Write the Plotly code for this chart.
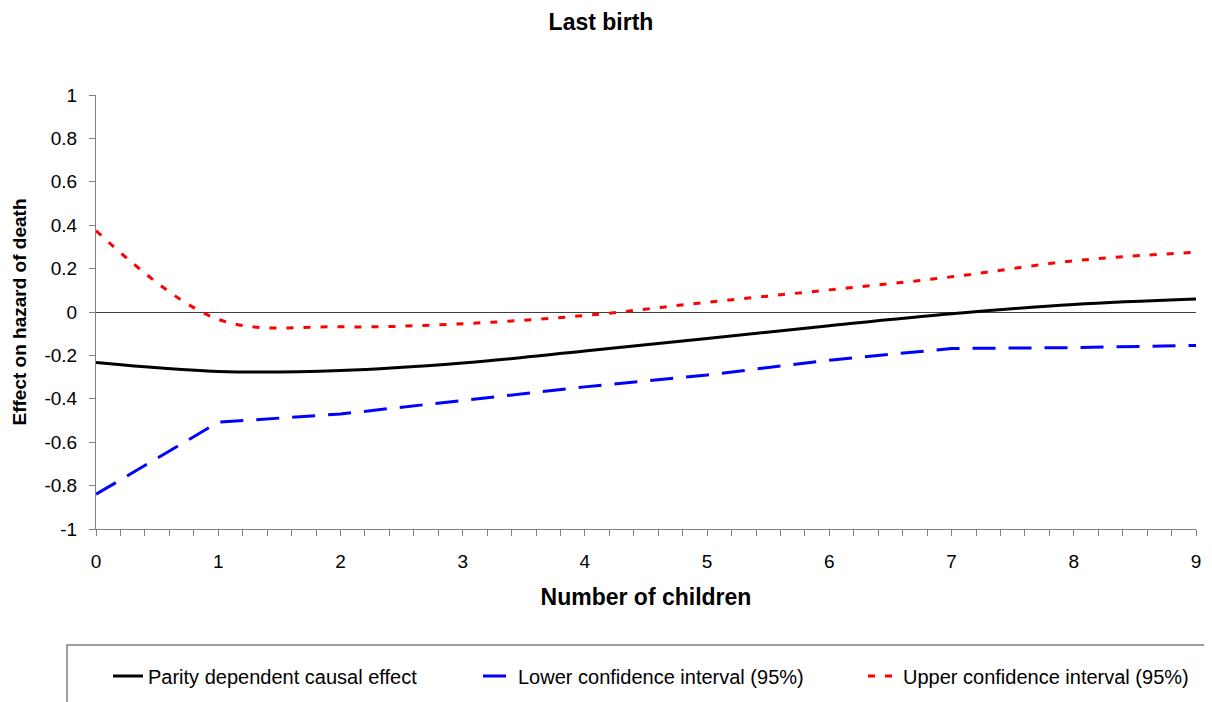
import plotly.graph_objects as go

children = [0, 1, 2, 3, 4, 5, 6, 7, 8, 9]
effect = [-0.233, -0.274, -0.270, -0.235, -0.180, -0.122, -0.063, -0.008, 0.035, 0.060]
lower_ci = [-0.840, -0.508, -0.470, -0.409, -0.345, -0.290, -0.222, -0.168, -0.164, -0.154]
upper_ci = [0.375, -0.034, -0.068, -0.054, -0.016, 0.045, 0.102, 0.162, 0.236, 0.275]

y_tickvals = [1, 0.8, 0.6, 0.4, 0.2, 0, -0.2, -0.4, -0.6, -0.8, -1]
y_ticktext = ["1", "0.8", "0.6", "0.4", "0.2", "0", "-0.2", "-0.4", "-0.6", "-0.8", "-1"]
x_tickvals = [0, 1, 2, 3, 4, 5, 6, 7, 8, 9]

# page has an 8px body margin; figure sized to fit the 1212x702 window
OFF = 8
W, H = 1212 - OFF, 702 - OFF
PL, PR, PT, PB = 96, 1196, 95, 529   # plot area in page pixels
L, T = PL - OFF, PT - OFF
R = W - (PR - OFF)
B = H - (PB - OFF)
PW = PR - PL
PH = PB - PT

def px_x(p):
    return (p - PL) / PW

def px_y(p):
    return (PB - p) / PH

FONT = "Liberation Sans, Arial, sans-serif"

fig = go.Figure()
fig.add_trace(go.Scatter(
    x=children, y=effect, mode="lines", name="Parity dependent causal effect",
    line=dict(color="black", width=3, shape="spline", smoothing=1.0),
    legend="legend", showlegend=True))
fig.add_trace(go.Scatter(
    x=children, y=lower_ci, mode="lines", name="Lower confidence interval (95%)",
    line=dict(color="#0000FF", width=3, dash="23px,13px"),
    legend="legend2", showlegend=True))
fig.add_trace(go.Scatter(
    x=children, y=upper_ci, mode="lines", name="Upper confidence interval (95%)",
    line=dict(color="#FF0000", width=3, dash="7px,10px", shape="spline", smoothing=1.0),
    legend="legend3", showlegend=True))

leg_common = dict(font=dict(family=FONT, size=20, color="black"),
                  bgcolor="rgba(0,0,0,0)", borderwidth=0,
                  yanchor="middle", xanchor="left", orientation="h")

fig.update_layout(
    width=W, height=H,
    showlegend=True,
    margin=dict(l=L, r=R, t=T, b=B, pad=0, autoexpand=False),
    paper_bgcolor="white", plot_bgcolor="white",
    font=dict(family=FONT, color="black"),
    title=dict(text="<b>Last birth</b>", x=(601 - OFF) / W, xanchor="center",
               y=1 - (22 - OFF) / H, yanchor="middle",
               font=dict(family=FONT, size=23, color="black")),
    xaxis=dict(range=[0, 9], tickvals=x_tickvals, ticks="outside", ticklen=6,
               tickcolor="#808080", tickwidth=1,
               showline=True, linecolor="#808080", linewidth=1,
               showgrid=False, zeroline=False,
               tickfont=dict(family=FONT, size=19, color="black"),
               ticklabelstandoff=9,
               minor=dict(dtick=0.2, ticks="outside", ticklen=6, tickcolor="#808080", tickwidth=1, showgrid=False),
               title=dict(text="<b>Number of children</b>", standoff=18,
                          font=dict(family=FONT, size=23, color="black"))),
    yaxis=dict(range=[-1, 1], tickvals=y_tickvals, ticktext=y_ticktext,
               ticks="outside", ticklen=6, tickcolor="#808080", tickwidth=1,
               showline=True, linecolor="#808080", linewidth=1,
               showgrid=False, zeroline=True, zerolinecolor="#404040", zerolinewidth=1,
               tickfont=dict(family=FONT, size=19, color="black"),
               ticklabelstandoff=8,
               title=dict(text="<b>Effect on hazard of death</b>", standoff=12,
                          font=dict(family=FONT, size=19, color="black"))),
    legend=dict(x=px_x(108), y=px_y(676), **leg_common),
    legend2=dict(x=px_x(478), y=px_y(676), **leg_common),
    legend3=dict(x=px_x(863), y=px_y(676), **leg_common),
    shapes=[dict(type="rect", xref="paper", yref="paper",
                 x0=px_x(67), x1=px_x(1230), y0=px_y(645), y1=px_y(720),
                 line=dict(color="#808080", width=1.5), fillcolor="rgba(0,0,0,0)")],
)

fig.write_html("out.html")
